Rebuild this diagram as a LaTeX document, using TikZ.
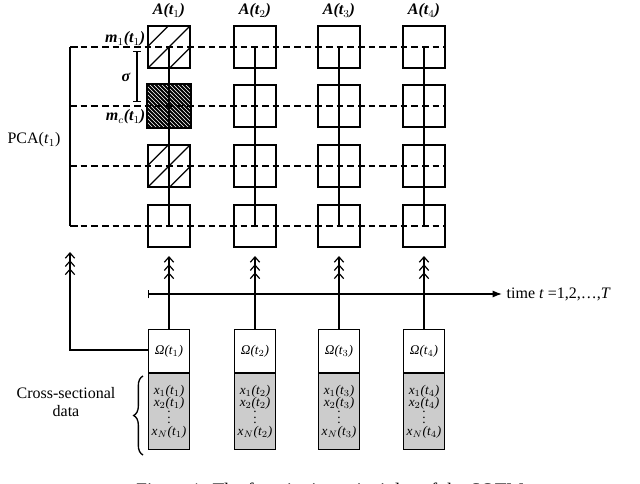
\documentclass[tikz,border=0pt]{standalone}
\usepackage{fontspec}
\setmainfont{Liberation Serif}
\usetikzlibrary{arrows.meta,patterns,decorations.pathreplacing}
\begin{document}
\begin{tikzpicture}[x=0.75pt,y=-0.75pt,
  cell/.style={draw,line width=1.6pt,minimum size=31pt,inner sep=0,fill=white},
  dline/.style={line width=1.4pt,dash pattern=on 5pt off 3pt},
  thick3/.style={line width=1.8pt},
  tri/.style={-{Straight Barb[length=4pt,width=7pt,sep=1pt] Straight Barb[length=4pt,width=7pt,sep=1pt] Straight Barb[length=4pt,width=7pt]},line width=0.9pt},
  lab/.style={font=\bfseries\itshape\large},
  om/.style={draw,line width=1pt,minimum width=31pt,minimum height=32pt,inner sep=0,fill=white,font=\itshape},
  dat/.style={draw,line width=1pt,minimum width=31pt,minimum height=57pt,inner sep=0,fill=black!20,font=\itshape,align=center}]
\useasboundingbox (0,0) rectangle (640,483);
% columns
\foreach \i/\x in {1/169,2/255,3/339,4/424}{
  \foreach \j/\y in {1/47,2/106,3/166,4/226}{
    \node[cell] (c\i\j) at (\x,\y) {};
  }
  \node[lab] (A\i) at (\x,11) {A(t$_{\i}$)};
}
% hatches col1
\begin{scope}
\clip (c11.south west) rectangle (c11.north east);
\draw[line width=1pt] (c11.south west) -- (c11.north east) (c11.south) -- (c11.east) (c11.west) -- (c11.north);
\end{scope}
\begin{scope}
\clip (c13.south west) rectangle (c13.north east);
\draw[line width=1pt] (c13.south west) -- (c13.north east) (c13.south) -- (c13.east) (c13.west) -- (c13.north);
\end{scope}
\fill[black] (c12.south west) rectangle (c12.north east);
\fill[pattern=north west lines,pattern color=white] (c12.south west) rectangle (c12.north east);
\draw[line width=1.6pt] (c12.south west) rectangle (c12.north east);
% dashed rows
\coordinate (L1) at (70,47); \coordinate (L4) at (70,226);
\foreach \j in {1,2,3,4}{
  \draw[dline] (L1 |- c1\j.center) -- (c4\j.east);
}
\draw[thick3] (L1) -- (L4);
\draw[thick3] (L1) -- ++(8,0) (L4) -- ++(8,0);
% vertical chains
\foreach \i in {1,2,3,4}{
  \draw[thick3] (c\i1.center) -- (c\i4.center);
}
% sigma
\draw[line width=0.8pt,|-|] (137,51) -- (137,102);
\node[font=\large\bfseries\itshape] (sg) at (126,77) {σ};
\node[lab,anchor=east] (m1) at (150,39) {m$_{1}$(t$_{1}$)};
\node[lab,anchor=east] (mc) at (150,117) {m$_{c}$(t$_{1}$)};
\node[font=\large] (pca) at (34,140) {PCA(\textit{t}$_{1}$)};
% bottom boxes
\foreach \i/\x in {1/169,2/255,3/339,4/424}{
  \node[om] (o\i) at (\x,351) {Ω(t$_{\i}$)};
  \node[dat,anchor=north] (d\i) at (o\i.south) {x$_1$(t$_\i$)\\[-3pt] x$_2$(t$_\i$)\\[-5pt] \upshape$\vdots$\\[-3pt] x$_N$(t$_\i$)};
  \draw[tri] (o\i.north) -- (\x,256);
}
% timeline
\node[anchor=west,font=\large] (time) at (502,294) {time \textit{t} =1,2,\dots,\textit{T}};
\draw[line width=0.9pt,|-{Latex[length=7pt]}] (148,294) -- (time.west);
% left arrow
\coordinate (lc) at (70,350);
\draw[tri] (o1.west |- lc) -- (lc) -- (70,252);
% brace
\draw[decorate,decoration={brace,amplitude=7pt},line width=1pt] (143,455) -- (143,376);
\node[align=center,font=\large] (cs) at (66,402) {Cross-sectional\\data};
% caption (cut)
\node[font=\Large] (cap) at (330,492) {Figure 1: The functioning principles of the SOTM};
\end{tikzpicture}
\end{document}
